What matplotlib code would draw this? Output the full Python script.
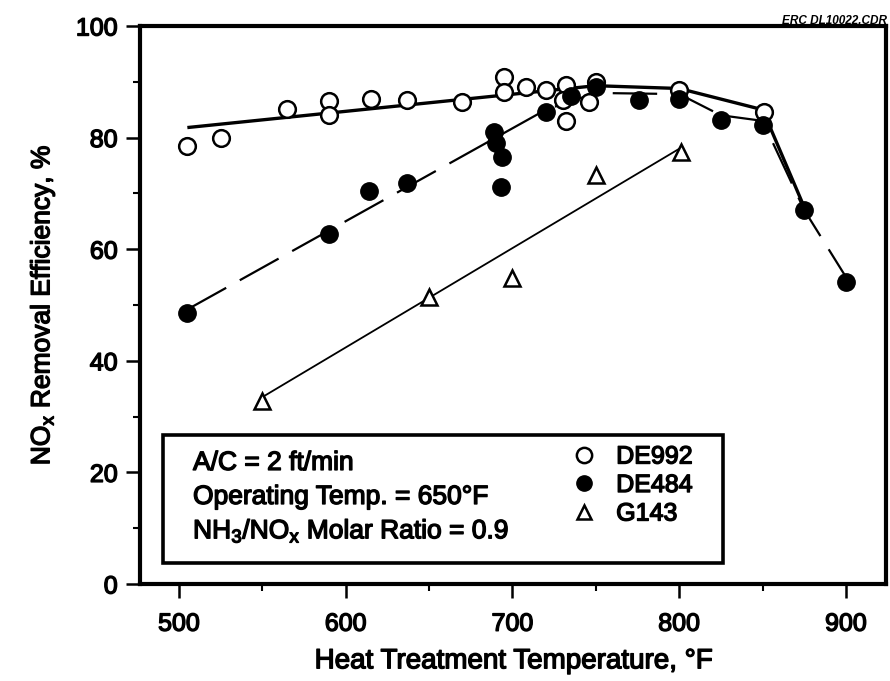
import matplotlib
matplotlib.use("Agg")
import matplotlib.pyplot as plt
import matplotlib.patheffects as pe
from matplotlib.lines import Line2D
from matplotlib.patches import Rectangle
from matplotlib.ticker import MultipleLocator

# data
# DE992 (open circles)
de992_temp = [505, 525, 565, 590, 590, 615, 637, 670, 695, 695, 708, 720, 732, 730, 732, 746, 750, 800, 851]
de992_eff = [78.5, 80.0, 85.2, 86.6, 84.0, 87.0, 86.7, 86.3, 90.9, 88.2, 89.0, 88.5, 89.4, 86.7, 82.9, 86.4, 90.0, 88.5, 84.6]
de992_fit_temp = [505, 750, 800, 850, 875]
de992_fit_eff = [81.8, 89.3, 88.8, 85.0, 67.5]

# DE484 (filled circles)
de484_temp = [505, 590, 614, 637, 689, 690, 694, 693, 720, 735, 750, 776, 800, 825, 850, 875, 900]
de484_eff = [48.5, 62.7, 70.5, 71.8, 81.0, 79.0, 76.5, 71.2, 84.6, 87.5, 89.0, 86.7, 87.0, 83.2, 82.3, 67.1, 54.2]
de484_fit_temp = [505, 720, 750, 800, 825, 850, 875, 900]
de484_fit_eff = [49.2, 85.0, 88.0, 87.8, 84.0, 83.0, 67.0, 55.0]

# G143 (open triangles)
g143_temp = [550, 650, 700, 750, 801]
g143_eff = [32.8, 51.5, 54.8, 73.3, 77.5]
g143_fit_temp = [550, 800]
g143_fit_eff = [33.5, 78.0]

series_names = ["DE992", "DE484", "G143"]
conditions = ["A/C = 2 ft/min",
              "Operating Temp. = 650\u00b0F",
              "NH$_3$/NO$_x$ Molar Ratio = 0.9"]

plt.rcParams['font.family'] = ['Liberation Sans', 'DejaVu Sans']
plt.rcParams['mathtext.fontset'] = 'custom'
plt.rcParams['mathtext.rm'] = 'Liberation Sans'
plt.rcParams['mathtext.it'] = 'Liberation Sans'
heavy = [pe.withStroke(linewidth=1.0, foreground='black')]

fig = plt.figure(figsize=(8.9, 6.81), dpi=100)
ax = fig.add_axes([140/890, 1-584/681, 746/890, 558/681])

# fitted lines
ax.plot(de992_fit_temp, de992_fit_eff, color='black', lw=2.4, solid_capstyle='butt')
ax.plot(de484_fit_temp, de484_fit_eff, color='black', lw=1.6, dashes=(20, 7))
ax.plot(g143_fit_temp, g143_fit_eff, color='black', lw=1.3)

# measured points
ax.plot(de992_temp, de992_eff, 'o', ms=12, mfc='white', mec='black', mew=1.8)
ax.plot(de484_temp, de484_eff, 'o', ms=12.5, mfc='black', mec='black')
ax.plot(g143_temp, g143_eff, '^', ms=11, mfc='white', mec='black', mew=1.8)

ax.set_xlim(476.6, 924)
ax.set_ylim(0, 100)
ax.xaxis.set_major_locator(MultipleLocator(100))
ax.xaxis.set_minor_locator(MultipleLocator(50))
ax.yaxis.set_major_locator(MultipleLocator(20))
ax.yaxis.set_minor_locator(MultipleLocator(10))
ax.tick_params(which='major', direction='out', length=10, width=1.8, pad=6, labelsize=18)
ax.tick_params(axis='x', which='major', pad=10)
ax.tick_params(which='minor', direction='out', length=5, width=1.5)
for sp in ax.spines.values():
    sp.set_linewidth(3)
for lab in ax.get_xticklabels() + ax.get_yticklabels():
    lab.set_path_effects(heavy)

ax.set_xlabel("Heat Treatment Temperature, \u00b0F", fontsize=20, labelpad=9, path_effects=heavy)
ax.set_ylabel("NO$_x$ Removal Efficiency, %", fontsize=19, labelpad=14, path_effects=heavy)

# box with test conditions and the symbol key
ax.add_patch(Rectangle((490.4, 3.8), 826.2-490.4, 26.7-3.8, fill=False, lw=2.6, ec='black', zorder=3))
for i, txt in enumerate(conditions):
    ax.text(508.4, 21.7 - 6.1*i, txt, fontsize=19, va='center', ha='left', path_effects=heavy)

handles = [Line2D([], [], ls='none', marker='o', ms=11, mfc='white', mec='black', mew=1.8),
           Line2D([], [], ls='none', marker='o', ms=11, mfc='black', mec='black'),
           Line2D([], [], ls='none', marker='^', ms=10, mfc='white', mec='black', mew=1.8)]
leg = ax.legend(handles, series_names, loc='upper left', bbox_to_anchor=(0.578, 0.25),
                frameon=False, fontsize=18, handlelength=1.0, handletextpad=0.8,
                labelspacing=0.18, borderpad=0, borderaxespad=0)
for t in leg.get_texts():
    t.set_path_effects(heavy)

fig.text(887/890, 1-24/681, "ERC DL10022.CDR", fontsize=8.5, fontweight='bold', style='italic',
         ha='right', va='baseline')

plt.savefig("out.png", dpi=100)
